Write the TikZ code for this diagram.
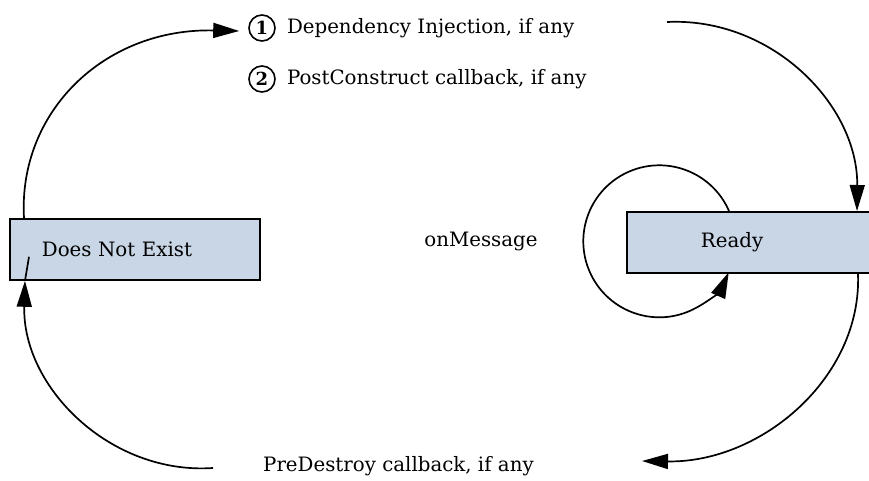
\documentclass[tikz,border=0pt]{standalone}
\usepackage{fontspec}
\setmainfont{DejaVu Serif}
\usetikzlibrary{arrows.meta,positioning}

\definecolor{boxblue}{RGB}{201,214,230}

\tikzset{
  statebox/.style={draw=black, line width=1.8pt, fill=boxblue, minimum height=61pt, inner ysep=0pt, align=left, anchor=north west},
  numcirc/.style={draw, circle, line width=1.6pt, minimum size=26pt, inner sep=0pt, font=\fontsize{18}{20}\selectfont\bfseries},
  trans/.style={line width=1.7pt, -{Triangle[length=26pt,width=15pt]}},
  lbl/.style={inner sep=0pt},
}

\begin{document}
\begin{tikzpicture}[x=1pt, y=1pt, font=\fontsize{19.8}{22}\selectfont]
  \useasboundingbox (0,0) rectangle (869,-481);
  \clip (0,0) rectangle (869,-481);

  % the two states
  \node[statebox, text width=186pt, inner xsep=32pt] (dne) at (9,-218) {Does Not Exist};
  \node[statebox, text width=112pt, inner xsep=74pt] (ready) at (626,-211) {Ready};

  % what happens on creation
  \node[numcirc] (c1) at (262,-28) {1};
  \node[lbl, right=11pt of c1] (inj) {Dependency Injection, if any};
  \node[numcirc] (c2) at (262,-79) {2};
  \node[lbl, right=11pt of c2] (post) {PostConstruct callback, if any};

  \node[lbl] (msg) at (481,-241) {onMessage};
  \node[lbl, anchor=west] (destroy) at (263,-466) {PreDestroy callback, if any};

  % free ends
  \coordinate (injout) at (667,-22);
  \coordinate (pdin) at (642,-461);
  \coordinate (pdout) at (213,-468);

  % transitions
  \draw[trans] ([xshift=15pt]dne.north west) .. controls +(-6,106) and +(-135,3) .. ([xshift=-9pt,yshift=-3pt]c1.west);
  \draw[trans] (injout) .. controls +(105,5) and +(1,106) .. ([xshift=231pt]ready.north west);
  \draw[trans] ([xshift=103pt]ready.north west) arc[start angle=23.5, end angle=336, radius=76pt];
  \draw[trans] ([xshift=232pt]ready.south west) .. controls +(4,-104) and +(119,-2) .. (pdin);
  \draw[trans] (pdout) .. controls +(-103,-7) and +(-3,-106) .. ([xshift=16pt]dne.south west);
  \draw[line width=1.7pt] ([xshift=16pt]dne.south west) -- ([xshift=20pt,yshift=24pt]dne.south west);
\end{tikzpicture}
\end{document}
